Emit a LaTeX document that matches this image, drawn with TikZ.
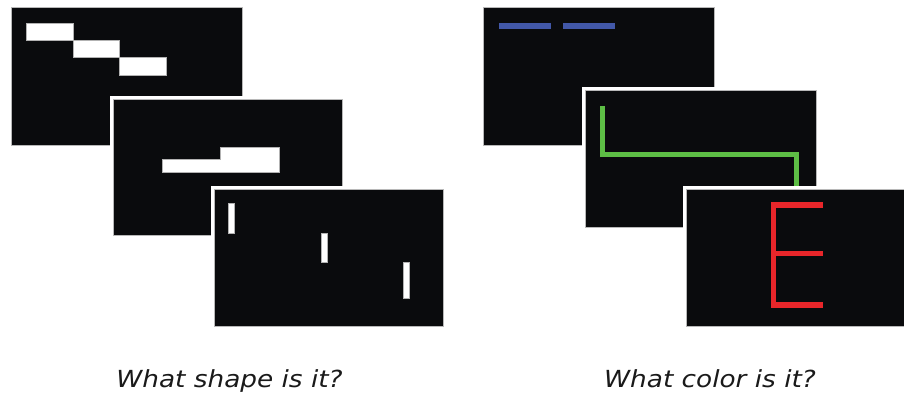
\documentclass[tikz,border=0pt]{standalone}
\usepackage{fontspec}
\setmainfont{DejaVu Sans}
\definecolor{panelblack}{HTML}{0A0B0D}
\definecolor{edgegray}{HTML}{B8B8B8}
\definecolor{barblue}{HTML}{4258A8}
\definecolor{linegreen}{HTML}{5DBE45}
\definecolor{letterred}{HTML}{E8262A}
\definecolor{textgray}{HTML}{1A1A1A}
\tikzset{
  panel/.style={fill=panelblack, draw=edgegray, line width=1pt},
  halo/.style={fill=white},
  whitebar/.style={fill=white, draw=gray!60, line width=0.4pt},
  caption/.style={font=\fontsize{23.5}{27}\selectfont\itshape, text=textgray, anchor=base, inner sep=0pt}
}
\begin{document}
\begin{tikzpicture}[x=1pt,y=-1pt]
\useasboundingbox (0,0) rectangle (904,400);
\fill[white] (0,0) rectangle (904,400);
\begin{scope}
\clip (0,0) rectangle (904,400);
% ---------- left group ----------
\fill[halo] (8,4) rectangle (245,148);
\draw[panel] (11,7) rectangle (242,145);
\draw[whitebar] (26,23) rectangle (73,40);
\draw[whitebar] (73,40) rectangle (119,57);
\draw[whitebar] (119,57) rectangle (166,75);

\fill[halo] (110,96) rectangle (345,238);
\draw[panel] (113,99) rectangle (342,235);
\draw[whitebar] (162,172) -- (162,159) -- (220,159) -- (220,147) -- (279,147) -- (279,172) -- cycle;

\fill[halo] (211,186) rectangle (446,329);
\draw[panel] (214,189) rectangle (443,326);
\draw[whitebar] (228,203) rectangle (234,233);
\draw[whitebar] (321,233) rectangle (327,262);
\draw[whitebar] (403,262) rectangle (409,298);

% ---------- right group ----------
\fill[halo] (480,4) rectangle (717,148);
\draw[panel] (483,7) rectangle (714,145);
\fill[barblue] (499,23) rectangle (551,29);
\fill[barblue] (563,23) rectangle (615,29);

\fill[halo] (582,87) rectangle (819,230);
\draw[panel] (585,90) rectangle (816,227);
\draw[linegreen, line width=5pt] (602,106) -- (602,154.5) -- (796,154.5) -- (796,192);

\fill[halo] (683,186) rectangle (920,329);
\draw[panel] (686,189) rectangle (918,326);
\draw[letterred, line width=5.5pt, line cap=butt] (823,205) -- (773.5,205) -- (773.5,305) -- (823,305);
\draw[letterred, line width=5.5pt] (773.5,253.5) -- (823,253.5);
\end{scope}

% ---------- captions ----------
\node[caption] (q1) at (229.5,387) {\scalebox{1.12}[1]{What shape is it?}};
\node[caption] (q2) at (710,387) {\scalebox{1.12}[1]{What color is it?}};
\end{tikzpicture}
\end{document}
